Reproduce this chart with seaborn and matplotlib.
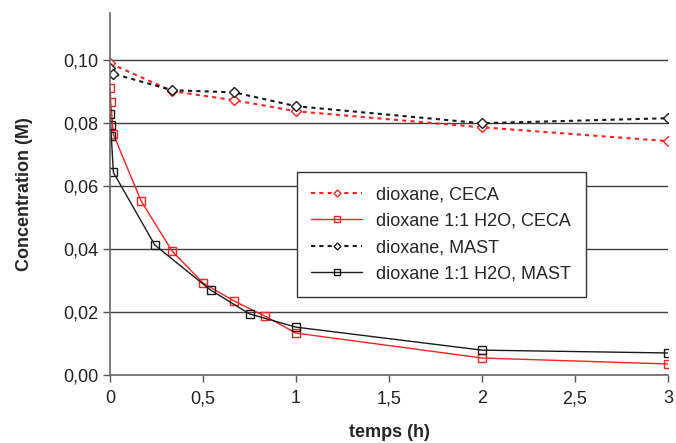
import matplotlib
matplotlib.use("Agg")
import matplotlib.pyplot as plt
import seaborn as sns
from matplotlib.ticker import FuncFormatter


# dioxane, CECA
t_ceca = [0, 0.333, 0.667, 1, 2, 3]
c_ceca = [0.0990, 0.0902, 0.0873, 0.0838, 0.0787, 0.0743]

# dioxane 1:1 H2O, CECA
t_ceca_h2o = [0, 0.003, 0.017, 0.167, 0.333, 0.5, 0.667, 0.833, 1, 2, 3]
c_ceca_h2o = [0.0911, 0.0867, 0.0765, 0.0552, 0.0394, 0.0292, 0.0235, 0.0187, 0.0133, 0.0054, 0.0035]

# dioxane, MAST
t_mast = [0, 0.017, 0.333, 0.667, 1, 2, 3]
c_mast = [0.0975, 0.0957, 0.0905, 0.0898, 0.0854, 0.0800, 0.0816]

# dioxane 1:1 H2O, MAST
t_mast_h2o = [0, 0.003, 0.006, 0.017, 0.24, 0.54, 0.75, 1, 2, 3]
c_mast_h2o = [0.0829, 0.0794, 0.0759, 0.0644, 0.0413, 0.0270, 0.0194, 0.0152, 0.0079, 0.0070]

x_ticks = [0, 0.5, 1, 1.5, 2, 2.5, 3]
y_ticks = [0, 0.02, 0.04, 0.06, 0.08, 0.10]

sns.set_style("white")
plt.rcParams['font.family'] = ['Liberation Sans', 'DejaVu Sans']

fig = plt.figure(figsize=(6.76, 4.43), dpi=100)
ax = fig.add_axes([0.163, 0.1535, 0.825, 0.817])

sns.lineplot(x=t_ceca, y=c_ceca, sort=False, ax=ax, color='#ff2020', linestyle=(0, (2, 2)),
             linewidth=1.5, marker='D', markersize=5, markerfacecolor='white',
             markeredgecolor='#ff2020', markeredgewidth=1, label='dioxane, CECA')
sns.lineplot(x=t_ceca_h2o, y=c_ceca_h2o, sort=False, ax=ax, color='#ff2020', linewidth=1,
             marker='s', markersize=6, markerfacecolor='none',
             markeredgecolor='#ff2020', markeredgewidth=1, label='dioxane 1:1 H2O, CECA')
sns.lineplot(x=t_mast, y=c_mast, sort=False, ax=ax, color='#1a1a1a', linestyle=(0, (2, 2)),
             linewidth=1.5, marker='D', markersize=5, markerfacecolor='white',
             markeredgecolor='#1a1a1a', markeredgewidth=1, label='dioxane, MAST')
sns.lineplot(x=t_mast_h2o, y=c_mast_h2o, sort=False, ax=ax, color='#1a1a1a', linewidth=1,
             marker='s', markersize=6, markerfacecolor='none',
             markeredgecolor='#1a1a1a', markeredgewidth=1, label='dioxane 1:1 H2O, MAST')

ax.set_xlim(0, 3)
ax.set_ylim(0, 0.115)
ax.set_xticks(x_ticks)
ax.set_yticks(y_ticks)
ax.xaxis.set_major_formatter(FuncFormatter(lambda v, p: f"{v:g}".replace('.', ',')))
ax.yaxis.set_major_formatter(FuncFormatter(lambda v, p: f"{v:.2f}".replace('.', ',')))
ax.tick_params(axis='both', labelsize=13, direction='out', length=5, width=1,
               color='#555555', bottom=True, left=True, labelcolor='#222222')
ax.tick_params(axis='x', pad=6)

ax.yaxis.grid(True, color='#404040', linewidth=1)
ax.set_axisbelow(True)
for side in ['top', 'right']:
    ax.spines[side].set_visible(False)
for side in ['left', 'bottom']:
    ax.spines[side].set_color('#666666')
    ax.spines[side].set_linewidth(1.2)

ax.set_xlabel('temps (h)', fontsize=13, fontweight='bold', labelpad=12)
ax.set_ylabel('Concentration (M)', fontsize=13, fontweight='bold', labelpad=22)

leg = ax.legend(loc='upper left', bbox_to_anchor=(0.335, 0.561), borderaxespad=0,
                fontsize=13, frameon=True, fancybox=False, handlelength=2.8,
                handletextpad=0.8, borderpad=0.8, labelspacing=0.52, framealpha=1,
                markerscale=0.7)
leg.get_frame().set_edgecolor('#333333')
leg.get_frame().set_linewidth(1)

fig.savefig('out.png', dpi=100)
